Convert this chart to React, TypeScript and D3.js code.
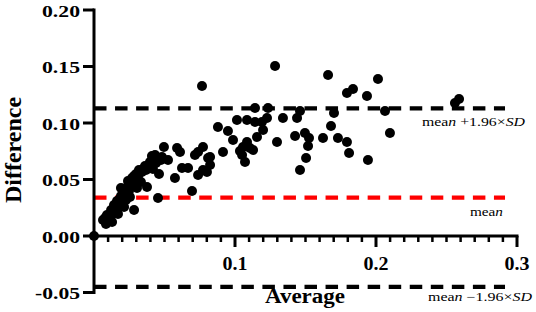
import React from "react";
import * as d3 from "d3";

const averages = [
  0, 0.0064, 0.0078, 0.0092, 0.0099, 0.0106, 0.0121, 0.0128, 0.0135, 0.0142, 0.0149, 0.0156, 0.0163,
  0.0177, 0.0184, 0.0191, 0.0199, 0.0213, 0.0227, 0.0234, 0.0241, 0.0248, 0.0262, 0.027, 0.0277,
  0.0284, 0.0291, 0.0298, 0.0312, 0.0326, 0.034, 0.0348, 0.0362, 0.0369, 0.0376, 0.0411, 0.0433,
  0.044, 0.0454, 0.0461, 0.0475, 0.0482, 0.0496, 0.0525, 0.0574, 0.0589, 0.061, 0.0624, 0.0667,
  0.0695, 0.0716, 0.0738, 0.0738, 0.0766, 0.0773, 0.0773, 0.0801, 0.0809, 0.0823, 0.0823, 0.0879,
  0.0915, 0.095, 0.0986, 0.1014, 0.1035, 0.105, 0.1057, 0.1071, 0.1085, 0.1085, 0.1106, 0.1128,
  0.1142, 0.1142, 0.1156, 0.1191, 0.1199, 0.1227, 0.1234, 0.1284, 0.1298, 0.134, 0.1426, 0.144,
  0.1461, 0.1461, 0.1496, 0.1504, 0.1518, 0.1525, 0.1624, 0.166, 0.1681, 0.1702, 0.173, 0.1794,
  0.1794, 0.1809, 0.1837, 0.1936, 0.1943, 0.2014, 0.2064, 0.2099, 0.256, 0.2589,
  0.0085, 0.0170, 0.0213, 0.0227, 0.0255, 0.0305, 0.0333, 0.0191, 0.0241, 0.0284, 0.0319, 0.0383,
  0.0397, 0.0418,
];
const differences = [
  0, 0.0142, 0.0159, 0.0186, 0.015, 0.0177, 0.023, 0.0124, 0.0195, 0.0274, 0.0212, 0.0239, 0.031,
  0.0265, 0.0327, 0.0354, 0.0319, 0.0389, 0.0354, 0.0381, 0.0442, 0.0398, 0.0469, 0.0513, 0.0451,
  0.023, 0.0496, 0.0549, 0.0531, 0.0566, 0.0566, 0.0593, 0.0619, 0.0584, 0.0434, 0.0708, 0.0717,
  0.0646, 0.0336, 0.0549, 0.0673, 0.0699, 0.0788, 0.0673, 0.0513, 0.0779, 0.0743, 0.0602, 0.0602,
  0.0398, 0.0717, 0.0743, 0.054, 0.1327, 0.0788, 0.0584, 0.0566, 0.069, 0.0628, 0.0699, 0.0965,
  0.0743, 0.0929, 0.085, 0.1027, 0.0752, 0.0717, 0.0788, 0.0655, 0.0832, 0.1027, 0.0779, 0.0761,
  0.1009, 0.1133, 0.0876, 0.1009, 0.0938, 0.1044, 0.1133, 0.1504, 0.0832, 0.1044, 0.0885, 0.1044,
  0.1106, 0.0584, 0.0912, 0.069, 0.0796, 0.0867, 0.0867, 0.1425, 0.0973, 0.1088, 0.0867, 0.0832,
  0.1265, 0.0735, 0.1301, 0.1239, 0.0673, 0.1389, 0.1106, 0.0912, 0.1177, 0.1212,
  0.0106, 0.0195, 0.0257, 0.0319, 0.0345, 0.0425, 0.0478, 0.0425, 0.0487, 0.0531, 0.0584, 0.0611,
  0.0655, 0.0593,
];

const meanDiff = 0.0339;
const upperLimit = 0.113;
const lowerLimit = -0.045;
const limitLineEnd = 0.2915;

const yTicks = [0.2, 0.15, 0.1, 0.05, 0.0, -0.05];
const yTickLabels = ["0.20", "0.15", "0.10", "0.05", "0.00", "-0.05"];
const xMajorTicks = [0.1, 0.2, 0.3];
const xTickLabels = ["0.1", "0.2", "0.3"];
const xMinorStep = 0.01;

const FONT = "Liberation Serif";

export default function App() {
  const x = d3.scaleLinear().domain([0, 0.3]).range([94, 517]);
  const y = d3.scaleLinear().domain([-0.05, 0.2]).range([292.5, 10]);
  const minorTicks = d3
    .range(1, 30)
    .map((i) => i * xMinorStep)
    .filter((v) => Math.abs(v * 10 - Math.round(v * 10)) > 1e-6);
  const points = averages.map((a, i) => ({ a, d: differences[i] }));

  const dash = "12.5 8.55";
  const txt = { fontFamily: FONT };
  return (
    <svg width={536} height={312} style={{ position: "absolute", left: 0, top: 0, background: "#fff" }}>
      <line x1={x(0)} x2={x(limitLineEnd)} y1={y(upperLimit)} y2={y(upperLimit)} stroke="#000" strokeWidth={4.2} strokeDasharray={dash} />
      <line x1={x(0)} x2={x(limitLineEnd)} y1={y(meanDiff)} y2={y(meanDiff)} stroke="#ff0000" strokeWidth={4.2} strokeDasharray={dash} />
      <line x1={x(0)} x2={x(limitLineEnd)} y1={y(lowerLimit)} y2={y(lowerLimit)} stroke="#000" strokeWidth={4.2} strokeDasharray={dash} />

      {points.map((p, i) => (
        <circle key={i} cx={x(p.a)} cy={y(p.d)} r={5} fill="#000" />
      ))}

      <line x1={x(0)} x2={x(0)} y1={y(0.2) - 1.5} y2={y(-0.05) + 1.5} stroke="#000" strokeWidth={3} />
      {yTicks.map((t, i) => (
        <g key={i}>
          <line x1={x(0) - 11} x2={x(0)} y1={y(t)} y2={y(t)} stroke="#000" strokeWidth={3} />
          <text
            x={80 - (yTickLabels[i].length === 5 ? 45 : 38)}
            y={y(t) + 6.5}
            style={txt}
            fontWeight="bold"
            fontSize={17}
            textLength={yTickLabels[i].length === 5 ? 45 : 38}
            lengthAdjust="spacingAndGlyphs"
          >
            {yTickLabels[i]}
          </text>
        </g>
      ))}

      <line x1={x(0) - 1.5} x2={x(0.3) + 1.5} y1={y(0)} y2={y(0)} stroke="#000" strokeWidth={3} />
      {minorTicks.map((t, i) => (
        <line key={i} x1={x(t)} x2={x(t)} y1={y(0)} y2={y(0) + 6} stroke="#000" strokeWidth={2.5} />
      ))}
      {xMajorTicks.map((t, i) => (
        <g key={i}>
          <line x1={x(t)} x2={x(t)} y1={y(0)} y2={y(0) + 11} stroke="#000" strokeWidth={3} />
          <text
            x={x(t) - 12.5}
            y={270}
            style={txt}
            fontWeight="bold"
            fontSize={18}
            textLength={25}
            lengthAdjust="spacingAndGlyphs"
          >
            {xTickLabels[i]}
          </text>
        </g>
      ))}

      <text x={265} y={303} style={txt} fontWeight="bold" fontSize={20} textLength={80} lengthAdjust="spacingAndGlyphs">
        Average
      </text>
      <text transform="translate(21,150) rotate(-90)" textAnchor="middle" style={txt} fontWeight="bold" fontSize={24}>
        Difference
      </text>

      <text x={422} y={126} style={txt} fontSize={12} textLength={103} lengthAdjust="spacingAndGlyphs">
        mea<tspan fontStyle="italic">n</tspan> +1.96×<tspan fontStyle="italic">SD</tspan>
      </text>
      <text x={470} y={216} style={txt} fontSize={12} textLength={33} lengthAdjust="spacingAndGlyphs">
        mea<tspan fontStyle="italic">n</tspan>
      </text>
      <text x={428} y={301} style={txt} fontSize={12} textLength={104} lengthAdjust="spacingAndGlyphs">
        mea<tspan fontStyle="italic">n</tspan> −1.96×<tspan fontStyle="italic">SD</tspan>
      </text>
    </svg>
  );
}
